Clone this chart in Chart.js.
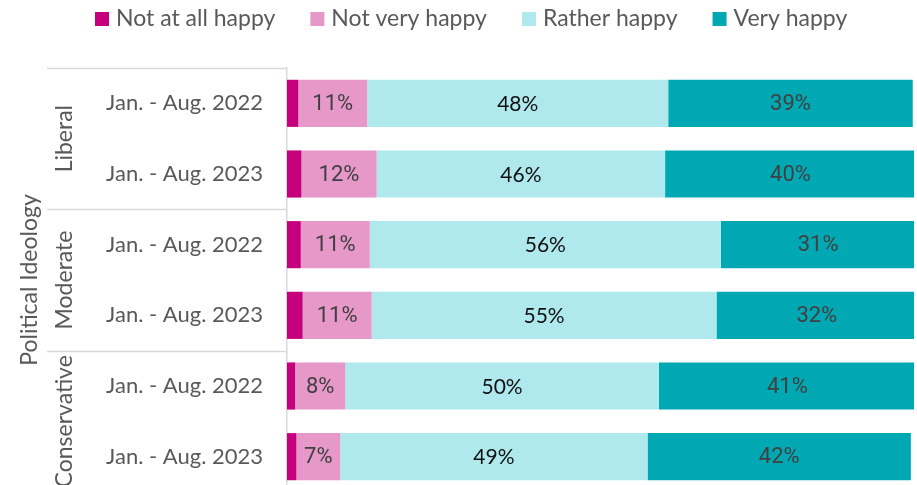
<!DOCTYPE html>
<html>
<head>
<meta charset="utf-8">
<script src="https://cdn.jsdelivr.net/npm/chart.js@4.4.1/dist/chart.umd.min.js"></script>
<style>
  html, body { margin: 0; padding: 0; background: #fff; overflow: hidden; }
  #grafico { display: block; width: 917px; height: 492px; }
</style>
</head>
<body>
<canvas id="grafico" width="917" height="492"></canvas>
<script>
const periods = ['Jan. - Aug. 2022', 'Jan. - Aug. 2023', 'Jan. - Aug. 2022', 'Jan. - Aug. 2023', 'Jan. - Aug. 2022', 'Jan. - Aug. 2023'];
const ideologies = ['Liberal', 'Moderate', 'Conservative'];
const axisTitle = 'Political Ideology';

const seriesNames = ['Not at all happy', 'Not very happy', 'Rather happy', 'Very happy'];
const notAtAllHappy = [1.8, 2.3, 2.2, 2.5, 1.3, 1.5];
const notVeryHappy = [11, 12, 11, 11, 8, 7];
const ratherHappy = [48, 46, 56, 55, 50, 49];
const veryHappy = [39, 40, 31, 32, 41, 42];

const cores = ['#C6007D', '#E698C9', '#AFE9EE', '#00A8B3'];
const cinzaTexto = '#595959';
const cinzaLinha = '#D9D9D9';

// fonte de cada rótulo de valor (a série "Rather happy" usa outra fonte)
const estiloRotulo = [
    null,
    { font: '400 22px Roboto', color: '#404040' },
    { font: '400 21px Lato', color: '#111111' },
    { font: '400 22px Roboto', color: '#404040' }
];

const decoracao = {
    id: 'decoracao',
    afterDatasetsDraw(chart) {
        const ctx = chart.ctx;
        ctx.save();
        ctx.textAlign = 'center';
        ctx.textBaseline = 'middle';
        chart.data.datasets.forEach((ds, di) => {
            const estilo = estiloRotulo[di];
            if (!estilo) return;
            ctx.font = estilo.font;
            ctx.fillStyle = estilo.color;
            chart.getDatasetMeta(di).data.forEach((bar, i) => {
                const p = bar.getProps(['x', 'y', 'base'], true);
                ctx.fillText(Math.round(ds.data[i]) + '%', (p.x + p.base) / 2, p.y + 1);
            });
        });
        ctx.restore();
    },
    afterDraw(chart) {
        const ctx = chart.ctx;
        const y = chart.scales.y;
        const left = chart.chartArea.left;
        ctx.save();

        // legenda
        ctx.font = '400 23px Lato';
        ctx.textBaseline = 'middle';
        ctx.textAlign = 'left';
        let lx = 95;
        chart.data.datasets.forEach((ds, di) => {
            ctx.fillStyle = ds.backgroundColor;
            ctx.fillRect(lx, 12, 14, 14);
            ctx.fillStyle = cinzaTexto;
            ctx.fillText(ds.label, lx + 21, 19);
            lx += 21 + ctx.measureText(ds.label).width + 35;
        });

        // linhas separando os grupos
        ctx.strokeStyle = cinzaLinha;
        ctx.lineWidth = 1.5;
        for (let g = 0; g <= ideologies.length; g++) {
            const yy = Math.round(y.getPixelForValue(g * 2 - 0.5)) + 0.5;
            ctx.beginPath();
            ctx.moveTo(47, yy);
            ctx.lineTo(left, yy);
            ctx.stroke();
        }

        // nomes dos grupos e título do eixo, rotacionados
        ctx.fillStyle = cinzaTexto;
        ctx.textAlign = 'center';
        ctx.font = '400 23px Lato';
        ideologies.forEach((nome, g) => {
            const cy = (y.getPixelForValue(g * 2) + y.getPixelForValue(g * 2 + 1)) / 2;
            ctx.save();
            ctx.translate(65, cy);
            ctx.rotate(-Math.PI / 2);
            ctx.fillText(nome, 0, 0);
            ctx.restore();
        });
        ctx.save();
        ctx.translate(30, (chart.chartArea.top + chart.chartArea.bottom) / 2);
        ctx.rotate(-Math.PI / 2);
        ctx.fillText(axisTitle, 0, 0);
        ctx.restore();

        ctx.restore();
    }
};

const series = [notAtAllHappy, notVeryHappy, ratherHappy, veryHappy];

new Chart(document.getElementById('grafico'), {
    type: 'bar',
    data: {
        labels: periods,
        datasets: series.map((valores, i) => ({
            label: seriesNames[i],
            data: valores,
            backgroundColor: cores[i],
            borderWidth: 0,
            categoryPercentage: 1,
            barPercentage: 0.667
        }))
    },
    options: {
        indexAxis: 'y',
        responsive: false,
        animation: false,
        events: [],
        layout: { padding: { top: 68, right: 3, bottom: 0, left: 0 } },
        plugins: {
            legend: { display: false },
            tooltip: { enabled: false }
        },
        scales: {
            x: {
                stacked: true,
                display: false,
                min: 0,
                max: 100
            },
            y: {
                stacked: true,
                grid: { display: false, drawTicks: false },
                border: { display: true, color: cinzaLinha, width: 1.5 },
                ticks: {
                    color: cinzaTexto,
                    font: { family: 'Lato', size: 22 },
                    padding: 24
                },
                afterFit(scale) {
                    scale.width = 287;
                    scale.paddingTop = 0;
                    scale.paddingBottom = 0;
                }
            }
        }
    },
    plugins: [decoracao]
});
</script>
</body>
</html>
